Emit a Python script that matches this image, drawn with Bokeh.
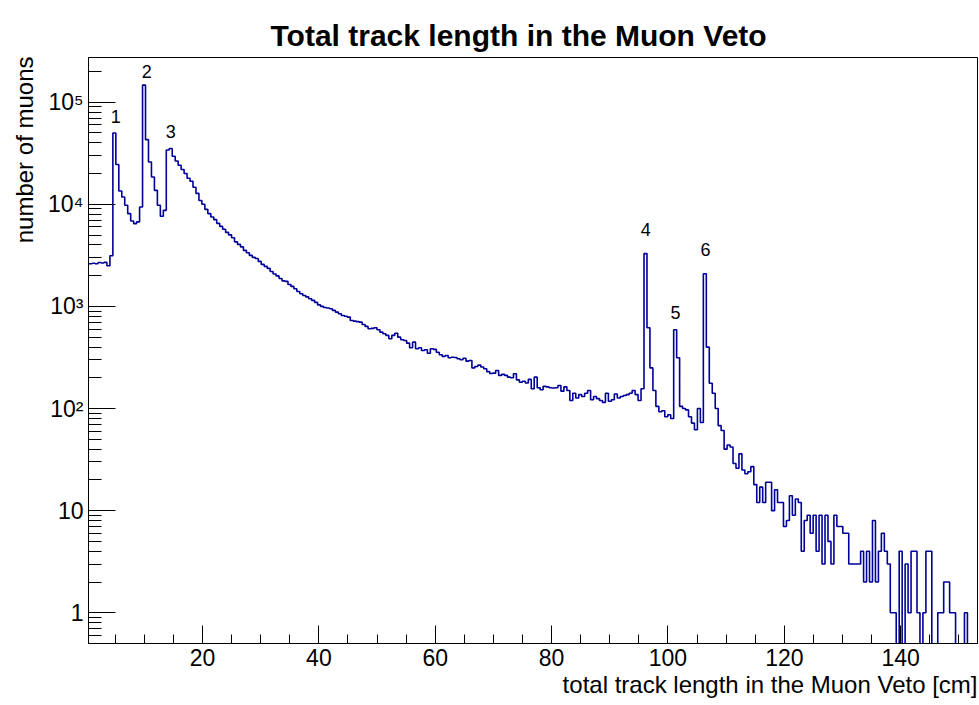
import numpy as np
from bokeh.plotting import figure
from bokeh.models import Range1d, SingleIntervalTicker, LogTicker, Title, ColumnDataSource
from bokeh.core.properties import value
from bokeh.embed import file_html
from bokeh.resources import INLINE

# ---------------- data ----------------
# histogram: 300 bins of equal width between X_LO and X_HI (cm)
X_LO, X_HI = 0.0, 153.0
counts = [
    2600, 2620, 2650, 2620, 2690, 2660, 2700, 2500, 3140, 50000,        # 0-9
    24500, 13500, 11800, 9780, 8100, 6860, 6470, 6730, 9420, 147000,    # 10-19
    43000, 26000, 18500, 13700, 9780, 7650, 8730, 34000, 35200, 29600,  # 20-29
    26600, 24100, 21900, 20000, 18000, 16800, 14700, 12800, 10900, 10000,  # 30-39
    8930, 8110, 7500, 7080, 6510, 6080, 5690, 5310, 5020, 4700,         # 40-49
    4290, 4050, 3830, 3540, 3350, 3160, 3020, 2950, 2760, 2580,         # 50-59
    2470, 2360, 2200, 2080, 1990, 1880, 1780, 1760, 1640, 1570,         # 60-69
    1490, 1400, 1330, 1280, 1240, 1190, 1145, 1095, 1035, 1000,         # 70-79
    977, 966, 949, 914, 880, 848, 816, 800, 785, 729,                   # 80-89
    718, 710, 702, 666, 637, 604, 610, 618, 591, 560,                   # 90-99
    540, 520, 482, 520, 547, 500, 472, 464, 437, 394,                   # 100-109
    447, 385, 394, 370, 376, 348, 385, 380, 356, 336,                   # 110-119
    324, 331, 314, 318, 316, 307, 300, 311, 291, 295,                   # 120-129
    250, 258, 266, 255, 245, 230, 220, 222, 236, 211,                   # 130-139
    216, 211, 203, 200, 219, 191, 181, 185, 178, 193,                   # 140-149
    156, 203, 160, 153, 165, 163, 160, 159, 160, 168,                   # 150-159
    148, 163, 150, 120, 141, 127, 137, 131, 141, 150,                   # 160-169
    122, 131, 125, 120, 115, 141, 118, 122, 139, 127,                   # 170-179
    131, 134, 137, 141, 150, 137, 120, 156, 3290, 618,                  # 180-189
    250, 150, 105, 93, 95, 83, 87, 80, 591, 314,                        # 190-199
    105, 100, 97, 83, 72, 62, 100, 73, 2090, 399,                       # 200-209
    177, 141, 100, 68, 61, 40, 44, 42, 29, 26,                          # 210-219
    36, 25, 23, 24, 27, 18, 12, 17, 12, 19,                             # 220-229
    19, 10, 16, 12, 12, 7, 8, 14, 9, 13,                                # 230-239
    12, 4, 8, 9, 6, 9, 4, 9, 3, 9,                                      # 240-249
    5, 3, 9, 7, 7, 6, 6, 3, 3, 3,                                       # 250-259
    3, 4, 2, 4, 2, 8, 2, 4, 6, 4,                                       # 260-269
    3, 1, 1, 0, 4, 0, 3, 1, 4, 4,                                       # 270-279
    1, 0, 1, 4, 4, 0, 0, 1, 1, 2,                                       # 280-289
    2, 1, 1, 0, 0, 0, 1, 0, 0, 0,                                       # 290-299
]

# peak annotations
peak_ids = ["1", "2", "3", "4", "5", "6"]
peak_x = [5.09, 10.42, 14.54, 96.16, 101.3, 106.47]
peak_y = [71800, 198000, 51100, 5650, 880, 3600]

# axis ranges and labels
x_view = (0.4, 153.2)
y_view = (0.5, 2.74e5)
y_tick_labels = {1: "1", 10: "10", 100: "10²", 1000: "10³", 10000: "10⁴", 100000: "10⁵"}

TITLE = "Total track length in the Muon Veto"
XLABEL = "total track length in the Muon Veto [cm]"
YLABEL = "number of muons"

# ---------------- plot ----------------
FONT = "Liberation Sans"
LINE = "#000099"

edges = np.linspace(X_LO, X_HI, len(counts) + 1)
yplot = [c if c > 0 else 1e-3 for c in counts]
src = ColumnDataSource(dict(x=list(edges), y=yplot + [yplot[-1]]))

p = figure(width=979, height=705, output_backend="svg", toolbar_location=None,
           y_axis_type="log",
           x_range=Range1d(*x_view), y_range=Range1d(*y_view),
           min_border_left=88, min_border_right=2, min_border_top=57, min_border_bottom=62)

p.background_fill_color = "white"
p.border_fill_color = "white"
p.outline_line_color = "black"
p.outline_line_width = 1
p.xgrid.visible = False
p.ygrid.visible = False

p.step(x="x", y="y", source=src, mode="after", line_color=LINE, line_width=1.6)

psrc = ColumnDataSource(dict(x=peak_x, y=peak_y, t=peak_ids))
p.text(x="x", y="y", text="t", source=psrc, text_align="center", text_baseline="middle",
       text_font=value(FONT), text_font_size="18px", text_color="black")

# x axis
xa = p.xaxis[0]
xa.ticker = SingleIntervalTicker(interval=20, num_minor_ticks=4)
xa.major_tick_in = 18
xa.major_tick_out = 0
xa.minor_tick_in = 9
xa.minor_tick_out = 0
xa.major_label_text_font = FONT
xa.major_label_text_font_size = "23px"
xa.major_label_text_color = "black"
xa.major_label_standoff = 5
xa.axis_line_color = "black"
xa.major_tick_line_color = "black"
xa.minor_tick_line_color = "black"

# y axis
ya = p.yaxis[0]
ya.ticker = LogTicker(num_minor_ticks=10)
ya.major_tick_in = 27
ya.major_tick_out = 0
ya.minor_tick_in = 13
ya.minor_tick_out = 0
ya.major_label_text_font = FONT
ya.major_label_text_font_size = "23px"
ya.major_label_text_color = "black"
ya.major_label_standoff = 5
ya.major_label_overrides = y_tick_labels
ya.axis_line_color = "black"
ya.major_tick_line_color = "black"
ya.minor_tick_line_color = "black"

# title
p.title.text = TITLE
p.title.text_font = FONT
p.title.text_font_size = "30px"
p.title.text_font_style = "bold"
p.title.text_color = "black"
p.title.align = "left"
p.title.offset = 182
p.title.standoff = 12

p.add_layout(Title(text=YLABEL, align="right", offset=-1, text_font=FONT, text_font_size="24px",
                   text_font_style="normal", text_color="black", standoff=16), "left")
p.add_layout(Title(text=XLABEL, align="right", text_font=FONT, text_font_size="24px",
                   text_font_style="normal", text_color="black", standoff=0), "below")

open("out.html", "w").write(file_html(p, INLINE))
